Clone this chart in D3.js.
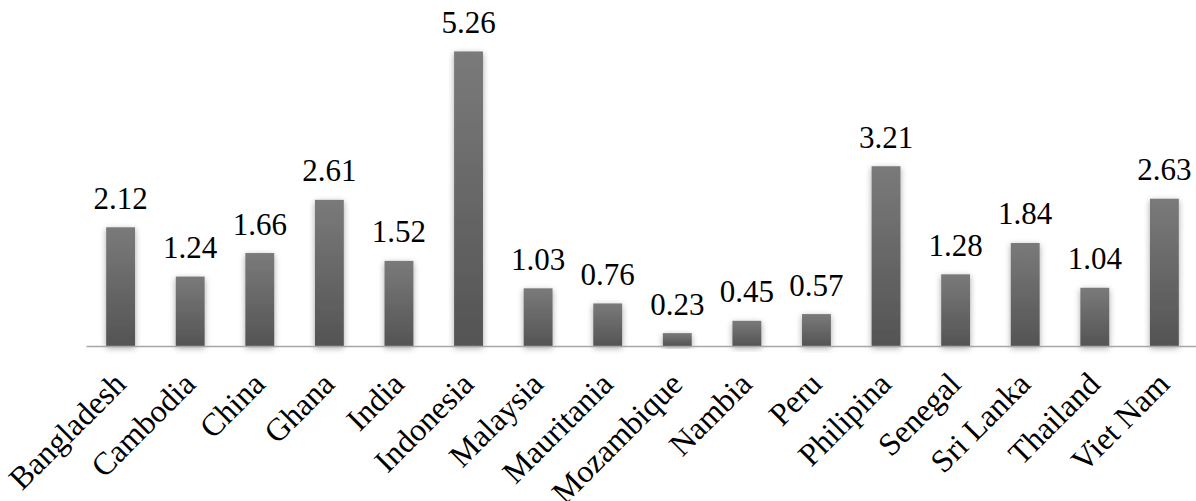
<!DOCTYPE html>
<html>
<head>
<meta charset="utf-8">
<script src="https://cdn.jsdelivr.net/npm/d3@7"></script>
<style>
  html, body { margin: 0; padding: 0; background: #fff; }
  svg { display: block; }
</style>
</head>
<body>
<svg id="chart" width="1196" height="501"></svg>
<script>
const categories = ["Bangladesh", "Cambodia", "China", "Ghana", "India", "Indonesia", "Malaysia",
  "Mauritania", "Mozambique", "Nambia", "Peru", "Philipina", "Senegal", "Sri Lanka", "Thailand", "Viet Nam"];
const values = [2.12, 1.24, 1.66, 2.61, 1.52, 5.26, 1.03, 0.76, 0.23, 0.45, 0.57, 3.21, 1.28, 1.84, 1.04, 2.63];

const FONT = "Liberation Serif";
const baseY = 346;
const svg = d3.select("#chart");

const x = d3.scaleBand().domain(categories).range([86, 1199]).paddingInner(0.585).paddingOuter(0.29);
const y = d3.scaleLinear().domain([0, 1]).range([baseY, baseY - 56]);

const defs = svg.append("defs");
const grad = defs.append("linearGradient").attr("id", "barFill")
  .attr("x1", 0).attr("y1", 0).attr("x2", 0).attr("y2", 1);
grad.append("stop").attr("offset", "0%").attr("stop-color", "#7a7a7a");
grad.append("stop").attr("offset", "100%").attr("stop-color", "#545454");

const shadow = defs.append("filter").attr("id", "soft")
  .attr("x", "-50%").attr("y", "-20%").attr("width", "200%").attr("height", "140%");
shadow.append("feDropShadow").attr("dx", 0).attr("dy", 2).attr("stdDeviation", 3)
  .attr("flood-color", "#000").attr("flood-opacity", 0.35);

// bars
svg.append("g").selectAll("rect").data(values).join("rect")
  .attr("x", (d, i) => x(categories[i]))
  .attr("width", x.bandwidth())
  .attr("y", d => y(d))
  .attr("height", d => y(0) - y(d))
  .attr("fill", "url(#barFill)")
  .attr("filter", "url(#soft)");

// baseline axis
const axis = d3.axisBottom(x).tickSize(0).tickFormat("");
const gAxis = svg.append("g").attr("transform", `translate(0,${baseY})`).call(axis);
gAxis.select(".domain").attr("stroke", "#a6a6a6").attr("stroke-width", 1.5);

// category labels
svg.append("g").selectAll("text").data(categories).join("text")
  .attr("transform", d => `translate(${x(d) + x.bandwidth() / 2 + 7},${baseY + 40}) rotate(-45)`)
  .attr("text-anchor", "end")
  .attr("font-family", FONT)
  .attr("font-size", 32)
  .attr("fill", "#000")
  .text(d => d);

// value labels
svg.append("g").selectAll("text").data(values).join("text")
  .attr("x", (d, i) => x(categories[i]) + x.bandwidth() / 2)
  .attr("y", d => y(d) - 18.5)
  .attr("text-anchor", "middle")
  .attr("font-family", FONT)
  .attr("font-size", 31)
  .attr("fill", "#000")
  .text(d => d.toFixed(2));
</script>
</body>
</html>
